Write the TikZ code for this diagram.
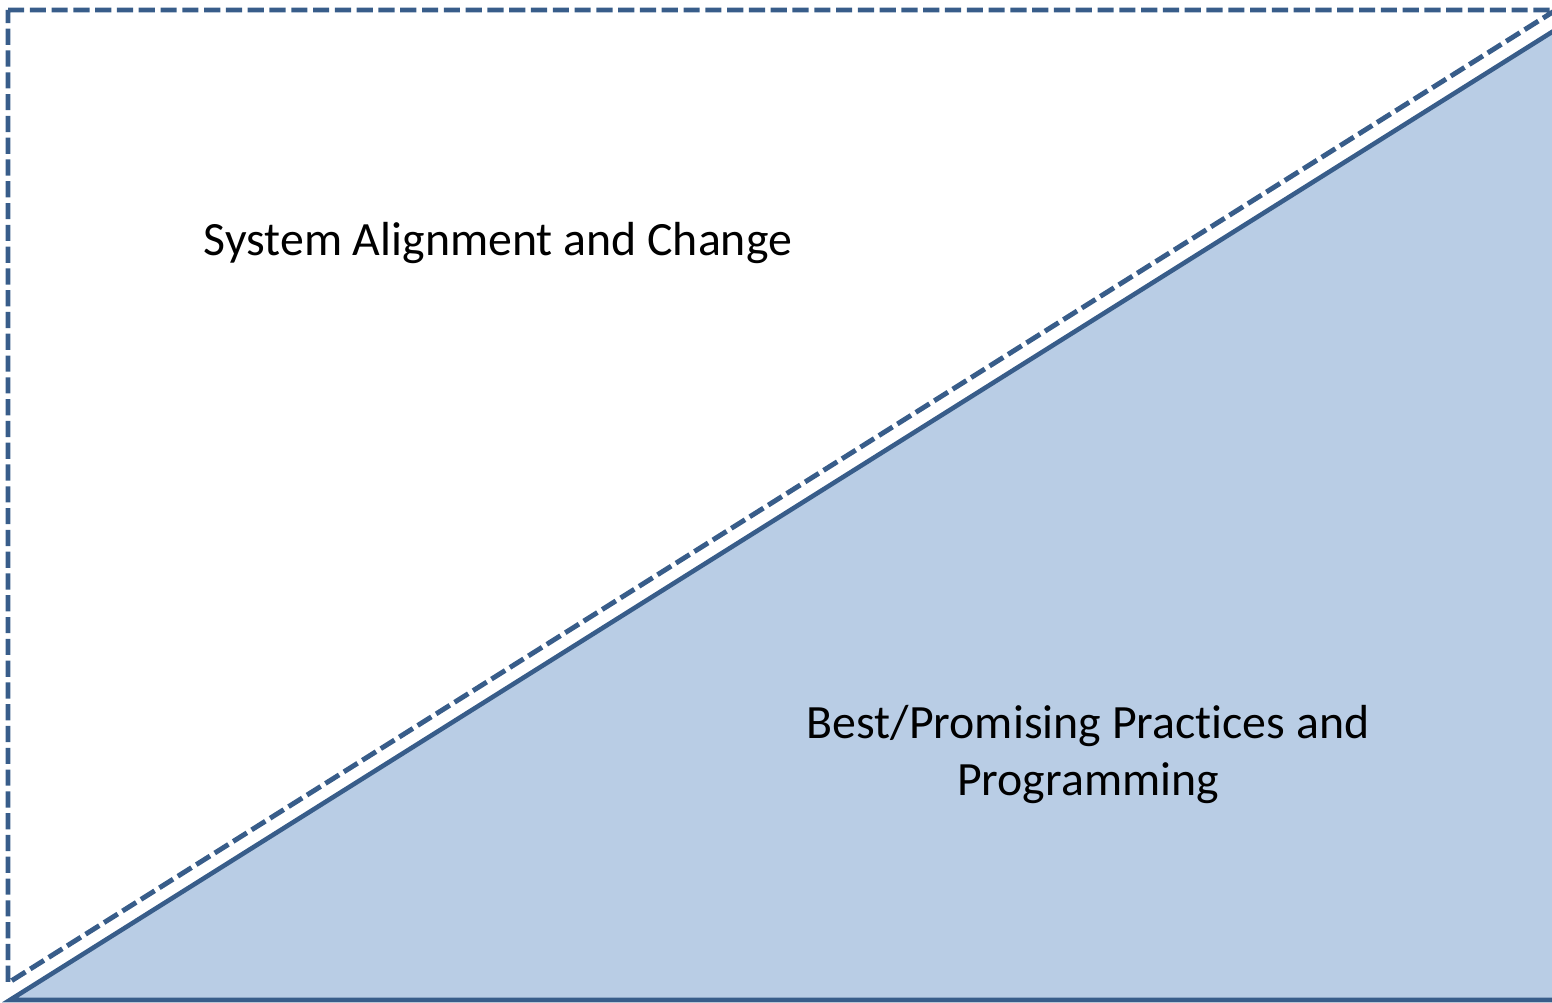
\documentclass[tikz,border=0pt]{standalone}
\usepackage{fontspec}
\setmainfont[Ligatures=NoCommon]{Carlito}
\usepackage{tikz}
\usetikzlibrary{positioning}
\definecolor{edgeblue}{HTML}{385D8A}
\definecolor{fillblue}{HTML}{B9CDE5}

\begin{document}
\begin{tikzpicture}
          \useasboundingbox (0,0) rectangle (15.52,10.03);
          \clip (0,0) rectangle (15.52,10.03);

          % corners of the two triangles
          \coordinate (tl) at (0.08,9.93);
          \coordinate (tr) at (15.56,9.93);
          \coordinate (bl) at (0.08,0.20);
          \coordinate (sl) at (0.10,0.03);
          \coordinate (sr) at (15.60,9.76);
          \coordinate (sb) at (15.60,0.03);

          % Draw the triangles
          \draw[edgeblue, line width=1.4pt, dash pattern=on 4.6pt off 1.6pt]
                (tl) -- (tr) -- (bl) -- cycle;
          \draw[edgeblue, fill=fillblue, line width=1.3pt, line join=miter]
                (sl) -- (sr) -- (sb) -- cycle;

          \node[anchor=base, font=\fontsize{13.6}{16.2}\selectfont] (sys) at (4.98,7.47)
                {System Alignment and Change};
          \node[align=center, font=\fontsize{13.6}{16.2}\selectfont] (best) at (10.88,2.48)
                {Best/Promising Practices and\\Programming};
      \end{tikzpicture}
\end{document}
